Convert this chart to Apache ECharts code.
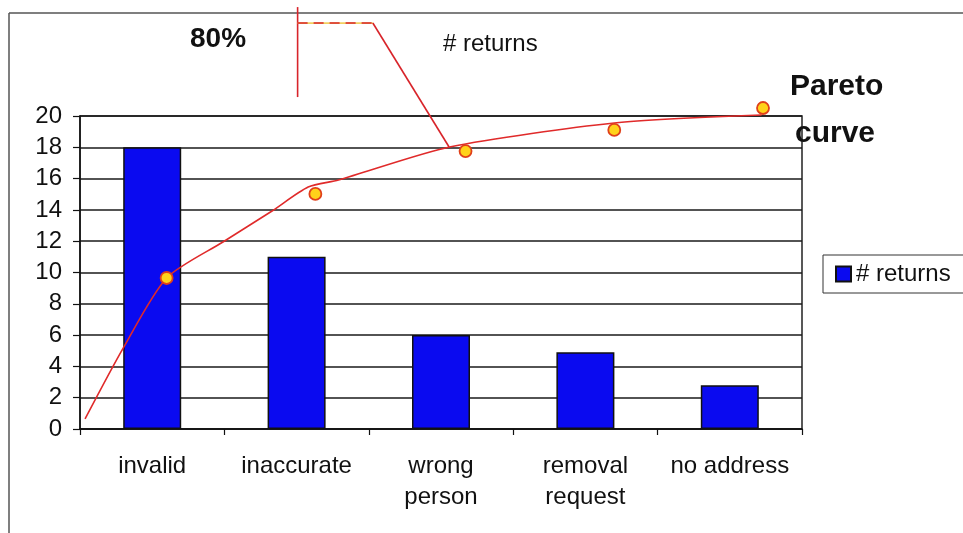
<!DOCTYPE html>
<html>
<head>
<meta charset="utf-8">
<title># returns</title>
<script src="https://cdn.jsdelivr.net/npm/echarts@6/dist/echarts.min.js"></script>
<style>
  html, body { margin: 0; padding: 0; background: #fff; }
  #chart { width: 963px; height: 533px; }
</style>
</head>
<body>
<div id="chart"></div>
<script>
// Return reasons and counts
const categories = ['invalid', 'inaccurate', 'wrong\nperson', 'removal\nrequest', 'no address'];
const returns = [18, 11, 6, 4.9, 2.8];
const yTicks = [0, 2, 4, 6, 8, 10, 12, 14, 16, 18, 20];

// Hand-drawn Pareto curve, as [category position, value] pairs (0..5 across the bands)
const curveX = [0.035, 0.30, 0.60, 0.99, 1.33, 1.58, 1.79, 2.56, 3.70, 4.72];
const curveY = [0.64, 5.18, 9.65, 11.95, 13.93, 15.46, 15.91, 18.02, 19.55, 20.06];

// Round markers along the curve
const dotX = [0.60, 1.63, 2.67, 3.70, 4.73];
const dotY = [9.65, 15.02, 17.76, 19.11, 20.51];

// Pointer from the "80%" note down to the curve
const pointerStemX = [1.507, 1.507];
const pointerStemY = [26.96, 21.21];
const pointerTopX = [1.507, 2.028];
const pointerTopY = [25.94, 25.94];
const pointerDropX = [2.028, 2.556];
const pointerDropY = [25.94, 18.02];

const zip = (xs, ys) => xs.map((x, i) => [x, ys[i]]);

const FONT = '"Liberation Sans", Arial, sans-serif';
const chart = echarts.init(document.getElementById('chart'));

// helper for the thin annotation strokes drawn on the hidden 0..5 x axis
const stroke = (name, xs, ys, lineStyle) => ({
  name, type: 'line', xAxisIndex: 1,
  data: zip(xs, ys), showSymbol: false, clip: false,
  lineStyle, z: 3
});

chart.setOption({
  animation: false,
  backgroundColor: '#ffffff',
  textStyle: { fontFamily: FONT },
  grid: { left: 80, right: 161, top: 116, bottom: 104, show: true, borderColor: '#222', borderWidth: 1.5, backgroundColor: 'transparent' },
  legend: {
    data: [{ name: '# returns', icon: 'rect' }],
    left: 823, top: 255,
    orient: 'vertical',
    itemWidth: 15, itemHeight: 15, itemGap: 6,
    padding: [7, 20, 7, 12],
    borderColor: '#333', borderWidth: 1,
    textStyle: { fontSize: 24, color: '#111', fontFamily: FONT }
  },
  xAxis: [
    {
      type: 'category',
      data: categories,
      axisLine: { lineStyle: { color: '#111', width: 1.5 } },
      axisTick: { show: true, length: 6, lineStyle: { color: '#111', width: 1.2 } },
      axisLabel: { color: '#111', fontSize: 24, lineHeight: 31, margin: 22, interval: 0, fontFamily: FONT }
    },
    { type: 'value', min: 0, max: 5, show: false }
  ],
  yAxis: {
    type: 'value',
    min: yTicks[0], max: yTicks[yTicks.length - 1], interval: 2,
    axisLine: { show: true, lineStyle: { color: '#111', width: 1.5 } },
    axisTick: { show: true, length: 7, lineStyle: { color: '#111', width: 1.2 } },
    axisLabel: { color: '#111', fontSize: 24, margin: 18, fontFamily: FONT },
    splitLine: { lineStyle: { color: '#1a1a1a', width: 1.5 } }
  },
  series: [
    {
      name: '# returns',
      type: 'bar',
      data: returns,
      barWidth: 58,
      itemStyle: { color: '#0a0af0', borderColor: '#111', borderWidth: 1.5 }
    },
    {
      name: 'curve',
      type: 'line',
      xAxisIndex: 1,
      data: zip(curveX, curveY),
      smooth: 0.25,
      showSymbol: false,
      clip: false,
      lineStyle: { color: '#e02a2a', width: 1.6 },
      z: 4
    },
    {
      name: 'points',
      type: 'scatter',
      xAxisIndex: 1,
      data: zip(dotX, dotY),
      symbolSize: 12,
      clip: false,
      itemStyle: { color: '#ffd21a', borderColor: '#e0401a', borderWidth: 1.8, opacity: 1 },
      z: 5
    },
    stroke('stem', pointerStemX, pointerStemY, { color: '#d8242a', width: 1.6 }),
    stroke('pointer-under', pointerTopX, pointerTopY, { color: '#f2d060', width: 1.8 }),
    stroke('pointer-top', pointerTopX, pointerTopY, { color: '#d8242a', width: 1.6, type: [10, 6] }),
    stroke('pointer-drop', pointerDropX, pointerDropY, { color: '#d8242a', width: 1.6 })
  ],
  graphic: [
    // frame around the whole chart
    { type: 'line', shape: { x1: 9, y1: 13, x2: 963, y2: 13 }, style: { stroke: '#555', lineWidth: 1.5 } },
    { type: 'line', shape: { x1: 9, y1: 13, x2: 9, y2: 533 }, style: { stroke: '#555', lineWidth: 1.5 } },
    // notes
    { type: 'text', left: 190, top: 25, style: { text: '80%', font: 'bold 28px ' + FONT, fill: '#111' } },
    { type: 'text', left: 443, top: 32, style: { text: '# returns', font: '24px ' + FONT, fill: '#111' } },
    { type: 'text', left: 790, top: 72, style: { text: 'Pareto', font: 'bold 30px ' + FONT, fill: '#111' } },
    { type: 'text', left: 795, top: 119, style: { text: 'curve', font: 'bold 30px ' + FONT, fill: '#111' } }
  ]
});
</script>
</body>
</html>
